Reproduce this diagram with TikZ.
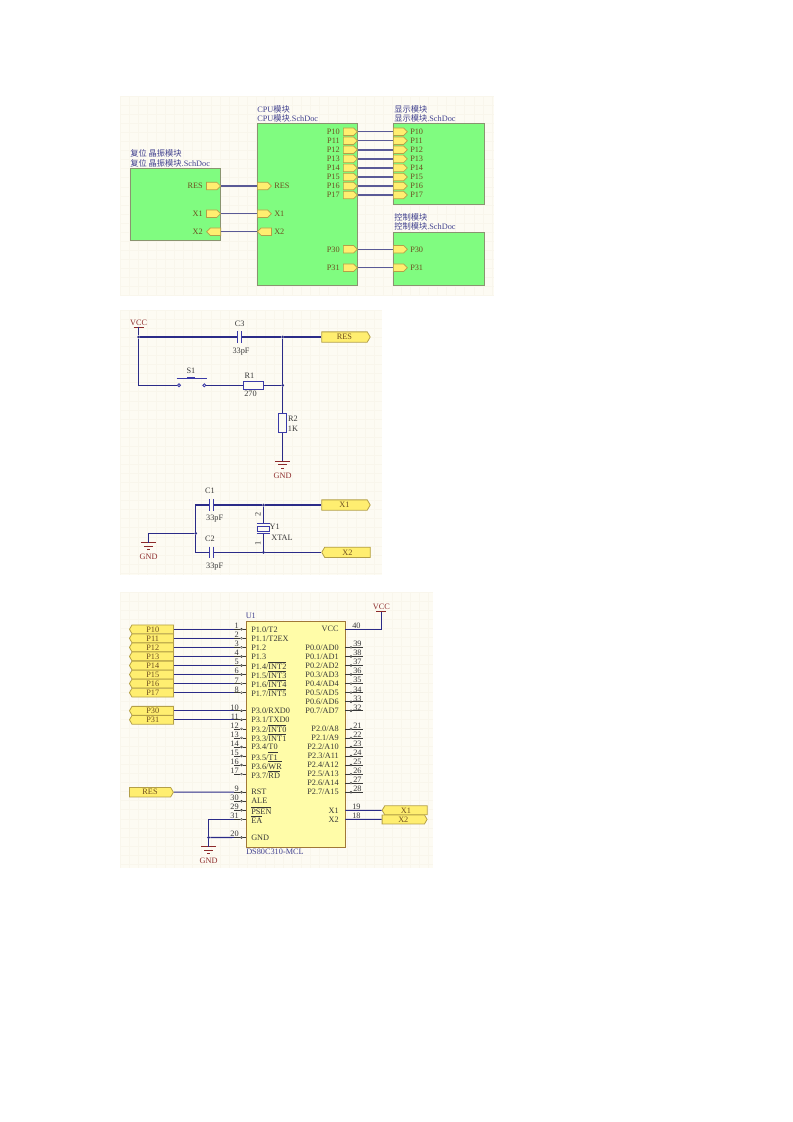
\documentclass[tikz,border=0pt]{standalone}
\usepackage{fontspec}
\setmainfont{Liberation Serif}
\newfontfamily\cjk{Noto Sans CJK SC}
\usetikzlibrary{shapes.symbols}
\newcommand\unit{0.75pt}
\newcommand\tinyf{\fontsize{6.2}{7}\selectfont}
\newcommand\ovl[1]{$\overline{\hbox{#1}}$}
\newcommand\gridbg[4]{
  \fill[sheetbg] (#1,#2) rectangle (#3,#4);
  \begin{scope}
    \clip (#1,#2) rectangle (#3,#4);
    \foreach \i in {0,...,42}{\draw[gridline] (#1+\i*9.07,#2) -- (#1+\i*9.07,#4);}
    \foreach \i in {0,...,31}{\draw[gridline] (#1,#2+\i*9.07) -- (#3,#2+\i*9.07);}
  \end{scope}}
\newcommand\gndmark[3]{
  \coordinate (#1) at (#2,#3);
  \draw[power] (#2-7.5,#3) -- (#2+7.5,#3) (#2-4.5,#3+3.5) -- (#2+4.5,#3+3.5) (#2-1.5,#3+7) -- (#2+1.5,#3+7);
  \node[powertext] (#1text) at (#2,#3+14.5) {GND};}
\newcommand\vccmark[3]{
  \coordinate (#1) at (#2,#3);
  \draw[power] (#2-5,#3) -- (#2+5,#3);
  \node[powertext] (#1text) at (#2,#3-4.5) {VCC};}
\definecolor{sheetbg}{HTML}{FDFBF3}
\definecolor{gridcol}{HTML}{F9F6EC}
\definecolor{sheetgreen}{HTML}{80FC80}
\definecolor{sheetedge}{HTML}{8A9470}
\definecolor{entryfill}{HTML}{FFEE70}
\definecolor{entryedge}{HTML}{B4A048}
\definecolor{harness}{HTML}{5A5A96}
\definecolor{wirecol}{HTML}{2B2B88}
\definecolor{symcol}{HTML}{3A3AA8}
\definecolor{namecol}{HTML}{40408E}
\definecolor{entryink}{HTML}{6E4E20}
\definecolor{partfill}{HTML}{FFFCA8}
\definecolor{partedge}{HTML}{A07838}
\definecolor{powercol}{HTML}{8C2A2A}
\definecolor{inkcol}{HTML}{383838}
\tikzset{
  gridline/.style={draw=gridcol,line width=0.3pt},
  sheet/.style={rectangle,draw=sheetedge,fill=sheetgreen,line width=0.8pt,anchor=north west,inner sep=0pt},
  sheetname/.style={text=namecol,font=\tinyf,anchor=west,inner sep=0pt},
  entry/.style={signal,signal from=nowhere,signal to=#1,draw=entryedge,fill=entryfill,line width=0.5pt,
    minimum width=14*\unit,minimum height=7.5*\unit,inner sep=0pt},
  entrytext/.style={text=entryink,font=\tinyf,inner sep=0pt},
  port/.style={signal,signal from=nowhere,signal to=#1,signal pointer angle=120,draw=entryedge,fill=entryfill,line width=0.6pt,
    text=entryink,font=\tinyf,minimum width=45*\unit,minimum height=9*\unit,inner sep=0pt},
  harnesswire/.style={draw=harness,line width=1.1pt},
  wire/.style={draw=wirecol,line width=0.8pt},
  symbol/.style={draw=symcol,line width=0.7pt},
  power/.style={draw=powercol,line width=0.7pt},
  powertext/.style={text=powercol,font=\tinyf,inner sep=0pt},
  parttext/.style={text=inkcol,font=\tinyf,inner sep=0pt},
  dot/.style={circle,fill=wirecol,inner sep=0pt,minimum size=3*\unit},
  capbox/.style={rectangle,inner sep=0pt,minimum width=3.5*\unit,minimum height=11*\unit,fill=sheetbg},
  capboxv/.style={rectangle,inner sep=0pt,minimum width=12*\unit,minimum height=9.5*\unit,fill=sheetbg},
  resbox/.style={rectangle,draw=symcol,fill=sheetbg,line width=0.8pt,inner sep=0pt},
  contact/.style={circle,draw=symcol,fill=sheetbg,line width=0.6pt,inner sep=0pt,minimum size=3*\unit},
  chip/.style={rectangle,draw=partedge,fill=partfill,line width=0.7pt,anchor=north west,inner sep=0pt},
  pinlabel/.style={text=inkcol,font=\tinyf,inner sep=0pt},
  pinline/.style={draw=inkcol,line width=0.5pt},
  pinmark/.style={circle,draw=inkcol,line width=0.35pt,inner sep=0pt,minimum size=2*\unit},
}
\begin{document}
\begin{tikzpicture}[x=\unit,y=-\unit]
\useasboundingbox[fill=white] (0,0) rectangle (793,1122);
\gridbg{120}{96}{494}{296}
\gridbg{120}{310}{382}{575}
\gridbg{120}{592}{433}{868}

% sheet symbols
\node[sheet,minimum width=90.5*\unit,minimum height=72*\unit] (rst) at (129.5,168) {};
\node[sheet,minimum width=100*\unit,minimum height=162*\unit] (cpu) at (257,123) {};
\node[sheet,minimum width=91*\unit,minimum height=81*\unit] (disp) at (393,123) {};
\node[sheet,minimum width=91*\unit,minimum height=53*\unit] (ctrl) at (393,232) {};
\node[sheetname] (rstname) at (130,153.7) {\cjk 复位 晶振模块};
\node[sheetname] (rstfile) at (130,163) {{\cjk 复位 晶振模块}.SchDoc};
\node[sheetname] (cpuname) at (257,109) {CPU{\cjk 模块}};
\node[sheetname] (cpufile) at (257,118.7) {CPU{\cjk 模块}.SchDoc};
\node[sheetname] (dispname) at (394,109) {\cjk 显示模块};
\node[sheetname] (dispfile) at (394,118.7) {{\cjk 显示模块}.SchDoc};
\node[sheetname] (ctrlname) at (394,217) {\cjk 控制模块};
\node[sheetname] (ctrlfile) at (394,226.7) {{\cjk 控制模块}.SchDoc};

% sheet entries
\foreach \n/\dir/\y in {RES/east/186,X1/east/213.7,X2/west/231.7}{
  \node[entry=\dir,anchor=west] (rst\n) at (206.2,\y) {};
  \node[entry=\dir,anchor=west] (cpu\n) at (257,\y) {};
  \node[entrytext,anchor=east] at (203,\y) {\n};
  \node[entrytext,anchor=west] at (274,\y) {\n};
  \draw[harnesswire] (rst\n.east) -- (cpu\n.west);
}
\foreach \n/\y in {P10/131.7,P11/140.7,P12/149.8,P13/158.9,P14/167.9,P15/177,P16/186,P17/195}{
  \node[entry=east,anchor=west] (cpu\n) at (343,\y) {};
  \node[entry=east,anchor=west] (disp\n) at (393,\y) {};
  \node[entrytext,anchor=east] at (340,\y) {\n};
  \node[entrytext,anchor=west] at (410,\y) {\n};
  \draw[harnesswire] (cpu\n.east) -- (disp\n.west);
}
\foreach \n/\y in {P30/249.3,P31/267.7}{
  \node[entry=east,anchor=west] (cpu\n) at (343,\y) {};
  \node[entry=east,anchor=west] (ctrl\n) at (393,\y) {};
  \node[entrytext,anchor=east] at (340,\y) {\n};
  \node[entrytext,anchor=west] at (410,\y) {\n};
  \draw[harnesswire] (cpu\n.east) -- (ctrl\n.west);
}

% reset part
\vccmark{vcca}{138.7}{327}
\node[dot] (ja) at (138.7,337) {};
\node[dot] (jb) at (282.7,337) {};
\node[dot] (jc) at (282.7,385.3) {};
\node[capbox] (c3) at (239.7,337) {};
\node[port=east,anchor=west,minimum width=48.5*\unit,minimum height=10.3*\unit] (portres) at (321.3,337) {RES};
\node[contact] (s1a) at (179,385.3) {};
\node[contact] (s1b) at (204.3,385.3) {};
\node[resbox,minimum width=19.5*\unit,minimum height=7.5*\unit] (r1) at (253.7,385.3) {};
\node[resbox,minimum width=7.5*\unit,minimum height=18.7*\unit] (r2) at (282.7,423.3) {};
\gndmark{gnda}{282.7}{461.3}
\draw[wire] (vcca) -- (ja) (ja) -- (c3) (c3) -- (jb) (jb) -- (portres.west);
\draw[wire] (ja) |- (s1a.west);
\draw[wire] (s1b.east) -- (r1.west) (r1.east) -- (jc);
\draw[wire] (jb) -- (jc) (jc) -- (r2.north) (r2.south) -- (gnda);
\draw[symbol,line width=1pt] (176.7,378.7) -- (206.7,378.7);
\fill[symcol] (187,376.5) rectangle (195,378.7);
\node[parttext] (s1) at (191,371) {S1};
\node[parttext] (c3name) at (239.7,324) {C3};
\node[parttext] (c3val) at (241,352) {33pF};
\node[parttext] (r1name) at (249.5,376) {R1};
\node[parttext] (r1val) at (250.5,394) {270};
\node[parttext] (r2name) at (293,419) {R2};
\node[parttext] (r2val) at (293,428.7) {1K};

% crystal part
\node[dot] (jd) at (195.7,533.3) {};
\node[dot] (je) at (263.5,505) {};
\node[dot] (jf) at (263.5,552.3) {};
\node[capbox] (c1) at (211.3,505) {};
\node[capbox] (c2) at (211.3,552.3) {};
\node[capboxv] (y1) at (263.5,528.7) {};
\node[port=east,anchor=west,minimum width=48.5*\unit,minimum height=10.3*\unit] (portxa) at (321.3,505) {X1};
\node[port=west,anchor=west,minimum width=48.5*\unit,minimum height=10.3*\unit] (portxb) at (321.3,552.3) {X2};
\gndmark{gndb}{148.7}{542.7}
\draw[wire] (gndb) |- (jd);
\draw[wire] (jd) |- (c1) (c1) -- (je) (je) -- (portxa.west);
\draw[wire] (jd) |- (c2) (c2) -- (jf) (jf) -- (portxb.west);
\draw[wire] (je) -- (y1.north) (y1.south) -- (jf);
\foreach \c in {c1,c2,c3}{\draw[symbol] (\c.north west) -- (\c.south west) (\c.north east) -- (\c.south east);}
\draw[symbol] (y1.north west) -- (y1.north east) (y1.south west) -- (y1.south east);
\draw[symbol,fill=sheetbg] (257.8,526.3) rectangle (269.2,531.2);
\node[parttext] (c1name) at (210,491) {C1};
\node[parttext] (c1val) at (214.7,519) {33pF};
\node[parttext] (c2name) at (210,539) {C2};
\node[parttext] (c2val) at (214.7,567) {33pF};
\node[parttext,rotate=90] (y1b) at (258,514) {2};
\node[parttext,rotate=90] (y1a) at (258,543) {1};
\node[parttext] (y1name) at (274.7,526.7) {Y1};
\node[parttext] (y1val) at (282,537.3) {XTAL};

% mcu part
\node[chip,minimum width=99.7*\unit,minimum height=225.7*\unit] (u1) at (245.7,621) {};
\node[sheetname] (u1name) at (245.5,616) {U1};
\node[sheetname] (u1type) at (246,851.7) {DS80C310-MCL};

% left pins
\foreach \r/\n/\t in {0/1/{P1.0/T2},1/2/{P1.1/T2EX},2/3/{P1.2},3/4/{P1.3},4/5/{P1.4/\ovl{INT2}},5/6/{P1.5/\ovl{INT3}},6/7/{P1.6/\ovl{INT4}},7/8/{P1.7/\ovl{INT5}},
  9/10/{P3.0/RXD0},10/11/{P3.1/TXD0},11/12/{P3.2/\ovl{INT0}},12/13/{P3.3/\ovl{INT1}},13/14/{P3.4/T0},14/15/{P3.5/\ovl{T1}},15/16/{P3.6/\ovl{WR}},16/17/{P3.7/\ovl{RD}},
  18/9/{RST},19/30/{ALE},20/29/{\ovl{PSEN}},21/31/{\ovl{EA}},23/20/{GND}}{
  \coordinate (pin\n) at (234,{629.3+\r*9.05});
  \node[pinmark] (mark\n) at (241.5,{629.3+\r*9.05}) {};
  \draw[pinline] (pin\n) -- (mark\n.west) (mark\n.east) -- (245.7,{629.3+\r*9.05});
  \node[pinlabel,anchor=west] (lab\n) at (251,{629.3+\r*9.05}) {\t};
  \node[pinlabel,anchor=south east] (num\n) at (239,{629.3+\r*9.05-0.3}) {\n};
}
% right pins
\foreach \r/\n/\t in {2/39/{P0.0/AD0},3/38/{P0.1/AD1},4/37/{P0.2/AD2},5/36/{P0.3/AD3},6/35/{P0.4/AD4},7/34/{P0.5/AD5},8/33/{P0.6/AD6},9/32/{P0.7/AD7},
  11/21/{P2.0/A8},12/22/{P2.1/A9},13/23/{P2.2/A10},14/24/{P2.3/A11},15/25/{P2.4/A12},16/26/{P2.5/A13},17/27/{P2.6/A14},18/28/{P2.7/A15}}{
  \coordinate (pin\n) at (363,{629.3+\r*9.05});
  \node[pinmark] (mark\n) at (351,{629.3+\r*9.05}) {};
  \draw[pinline] (345.3,{629.3+\r*9.05}) -- (mark\n.west) (mark\n.east) -- (pin\n);
  \node[pinlabel,anchor=east] (lab\n) at (339,{629.3+\r*9.05}) {\t};
  \node[pinlabel,anchor=south west] (num\n) at (353,{629.3+\r*9.05-0.3}) {\n};
}
\foreach \r/\n/\t in {0/40/{VCC},20/19/{X1},21/18/{X2}}{
  \coordinate (pin\n) at (345.3,{629.3+\r*9.05});
  \node[pinlabel,anchor=east] (lab\n) at (339,{629.3+\r*9.05}) {\t};
  \node[pinlabel,anchor=south west] (num\n) at (352,{629.3+\r*9.05-0.3}) {\n};
}

% ports of the mcu
\foreach \p/\r/\n in {P10/0/1,P11/1/2,P12/2/3,P13/3/4,P14/4/5,P15/5/6,P16/6/7,P17/7/8,P30/9/10,P31/10/11}{
  \node[port=west,anchor=west,minimum width=44*\unit,minimum height=8.8*\unit] (port\p) at (129,{629.3+\r*9.05}) {\p};
  \draw[wire] (port\p.east) -- (pin\n);
}
\node[port=east,anchor=west,minimum width=44*\unit,minimum height=9.5*\unit] (portu) at (129,792.2) {RES};
\draw[wire] (portu.east) -- (pin9);
\node[port=west,anchor=west] (portua) at (381.7,810.3) {X1};
\node[port=east,anchor=west] (portub) at (381.7,819.4) {X2};
\draw[wire] (pin19) -- (portua.west);
\draw[wire] (pin18) -- (portub.west);
\vccmark{vccb}{381.3}{611.7}
\draw[wire] (pin40) -| (vccb);
\gndmark{gndc}{208.7}{846.7}
\node[dot] (jg) at (208.7,837.5) {};
\draw[wire] (pin31) -| (jg);
\draw[wire] (pin20) -- (jg);
\draw[wire] (jg) -- (gndc);
\end{tikzpicture}
\end{document}
